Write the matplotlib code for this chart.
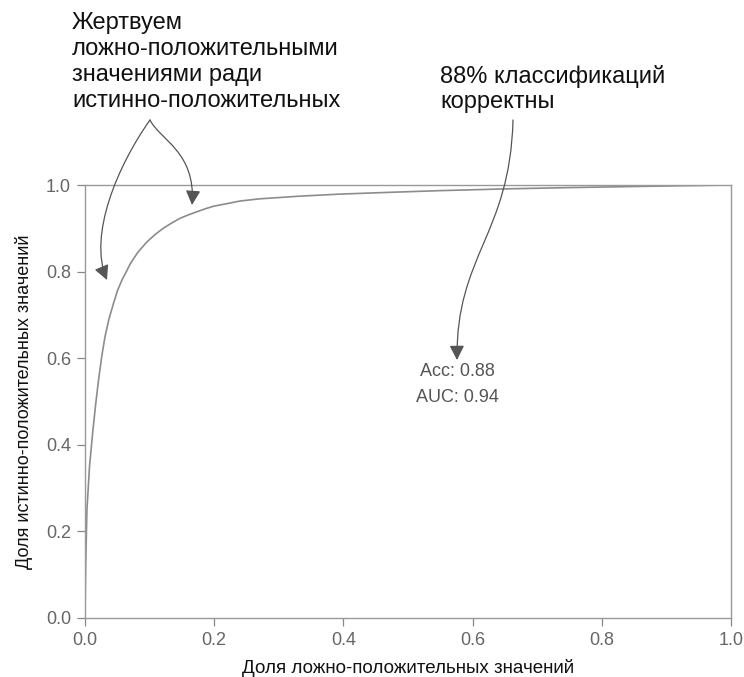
import matplotlib
matplotlib.use("Agg")
import matplotlib.pyplot as plt
from matplotlib.patches import FancyArrowPatch
from matplotlib.path import Path
from matplotlib.transforms import Affine2D

# ROC curve read as (false-positive rate, true-positive rate) pairs
fpr = [0.0, 0.001, 0.003, 0.007, 0.012, 0.017, 0.021, 0.026, 0.031, 0.037,
       0.044, 0.050, 0.057, 0.064, 0.070, 0.082, 0.0955, 0.108, 0.121, 0.134,
       0.147, 0.160, 0.173, 0.186, 0.199, 0.220, 0.240, 0.270, 0.330, 0.395,
       0.470, 0.550, 0.650, 0.750, 0.870, 1.0]
tpr = [0.0, 0.12, 0.25, 0.35, 0.43, 0.50, 0.55, 0.605, 0.65, 0.69,
       0.726, 0.755, 0.78, 0.80, 0.818, 0.845, 0.868, 0.885, 0.90, 0.912,
       0.923, 0.931, 0.938, 0.945, 0.951, 0.957, 0.963, 0.968, 0.974, 0.979,
       0.983, 0.987, 0.991, 0.994, 0.997, 1.0]

ticks = [0.0, 0.2, 0.4, 0.6, 0.8, 1.0]
tick_labels = ["0.0", "0.2", "0.4", "0.6", "0.8", "1.0"]
acc = 0.88
auc = 0.94

W, H = 744, 677
fig = plt.figure(figsize=(W / 100, H / 100), dpi=100)
ax = fig.add_axes([85 / W, 1 - 618 / H, (731 - 85) / W, (618 - 185) / H])

narrow = ["Liberation Sans Narrow", "Liberation Sans", "DejaVu Sans"]
sans = ["Liberation Sans", "DejaVu Sans"]

ax.plot(fpr, tpr, color="#8c8c8c", lw=1.2, solid_capstyle="round",
        solid_joinstyle="round")
ax.set_xlim(0, 1)
ax.set_ylim(0, 1)
ax.set_xticks(ticks)
ax.set_yticks(ticks)
ax.set_xticklabels(tick_labels, family=narrow, fontsize=13, color="#666666")
ax.set_yticklabels(tick_labels, family=narrow, fontsize=13, color="#666666")
ax.tick_params(direction="out", length=6, width=0.9, color="#888888", pad=4)
for s in ax.spines.values():
    s.set_color("#999999")
    s.set_linewidth(1.0)

ax.set_xlabel("Доля ложно-положительных значений", family=narrow,
              fontsize=13.5, color="#111111", labelpad=7)
ax.set_ylabel("Доля истинно-положительных значений", family=sans,
              fontsize=13, color="#111111", labelpad=9)

ax.text(0.577, 0.57, f"Acc: {acc:.2f}", ha="center", va="center",
        fontsize=13, color="#555555", family=sans)
ax.text(0.577, 0.51, f"AUC: {auc:.2f}", ha="center", va="center",
        fontsize=13, color="#555555", family=sans)

# callouts placed in pixel coordinates (origin top-left)
px = Affine2D().scale(1 / W, -1 / H).translate(0, 1) + fig.transFigure

fig.text(72, 62, "Жертвуем\nложно-положительными\nзначениями ради\nистинно-положительных",
         transform=px, ha="left", va="center", fontsize=17, family=sans,
         color="#111111", linespacing=1.22)
fig.text(440, 89, "88% классификаций\nкорректны", transform=px,
         ha="left", va="center", fontsize=17, family=sans,
         color="#111111", linespacing=1.15)


def curved_arrow(pts):
    path = Path(pts, [Path.MOVETO, Path.CURVE4, Path.CURVE4, Path.CURVE4])
    arr = FancyArrowPatch(path=path, transform=px,
                          arrowstyle="-|>,head_length=0.55,head_width=0.28",
                          mutation_scale=16, color="#555555", lw=0.9)
    fig.add_artist(arr)


curved_arrow([(150, 120), (118, 165), (88, 235), (107, 280)])
curved_arrow([(150, 120), (160, 140), (196, 152), (192, 205)])
curved_arrow([(513, 120), (510, 235), (456, 255), (457, 360)])

fig.savefig("out.png", dpi=100)
